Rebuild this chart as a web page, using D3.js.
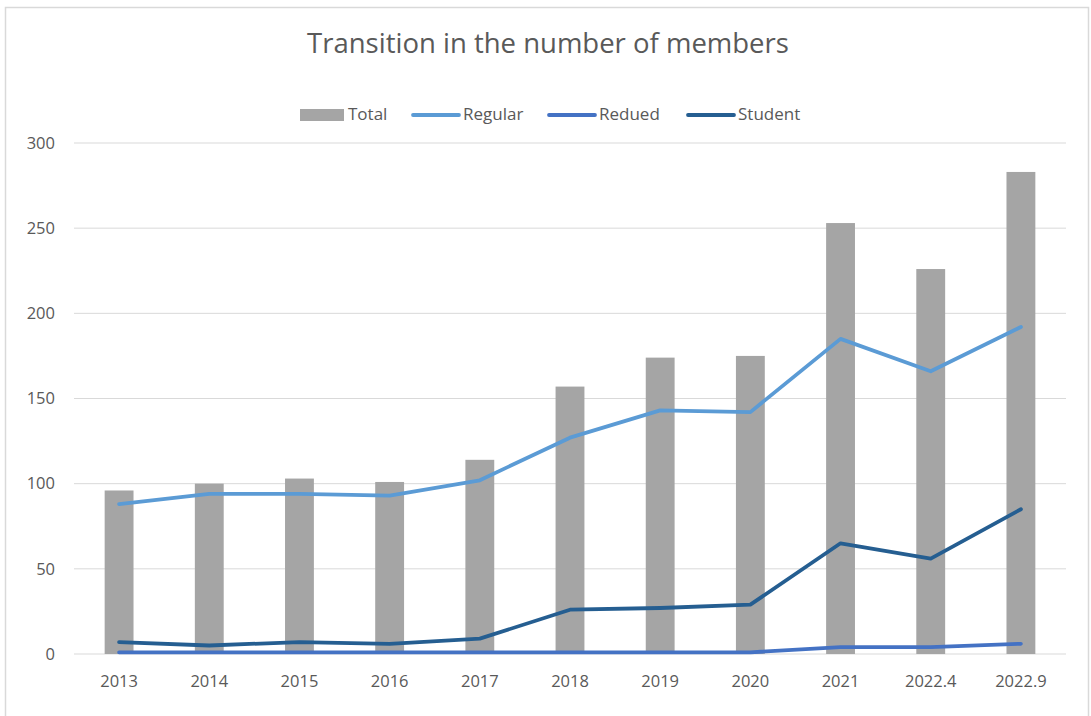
<!DOCTYPE html>
<html>
<head>
<meta charset="utf-8">
<script src="https://cdn.jsdelivr.net/npm/d3@7"></script>
<style>
  body { margin: 0; background: #fff; }
  text { font-family: "Open Sans", "Liberation Sans", sans-serif; fill: #595959; }
</style>
</head>
<body>
<script>
let categories = ["2013","2014","2015","2016","2017","2018","2019","2020","2021","2022.4","2022.9"];
let total   = [96,100,103,101,114,157,174,175,253,226,283];
let regular = [88,94,94,93,102,127,143,142,185,166,192];
let redued  = [1,1,1,1,1,1,1,1,4,4,6];
let student = [7,5,7,6,9,26,27,29,65,56,85];
let yTicks  = [0,50,100,150,200,250,300];

let W = 1091, H = 716;
let plotLeft = 74, plotRight = 1066, plotTop = 143, plotBottom = 654;

let svg = d3.select("body").append("svg").attr("width",W).attr("height",H);

// chart frame
svg.append("rect")
      .attr("x",5.5).attr("y",7.5)
      .attr("width",1083).attr("height",720)
      .attr("fill","none")
      .attr("stroke","#d9d9d9")
      .attr("stroke-width","1.5");

let x = d3.scaleBand()
              .domain(categories)
              .range([plotLeft,plotRight])
              .paddingInner(0.68)
              .paddingOuter(0.34);

let y = d3.scaleLinear().domain([0,300]).range([plotBottom,plotTop]);

// gridlines
svg.selectAll("line.grid")
      .data(yTicks)
      .enter().append("line")
                .attr("class","grid")
                .attr("x1",plotLeft).attr("x2",plotRight)
                .attr("y1",(d)=>y(d)).attr("y2",(d)=>y(d))
                .attr("stroke","#d9d9d9")
                .attr("stroke-width","1");

// y labels
let yAxis = d3.axisLeft(y).tickValues(yTicks).tickSize(0).tickPadding(0);
let gy = svg.append("g").attr("transform","translate(55,0)").call(yAxis);
gy.select(".domain").remove();
gy.selectAll("text").attr("font-size","16.5px").style("font-family","'Open Sans', sans-serif").attr("fill","#595959");

// x labels
let xAxis = d3.axisBottom(x).tickSize(0).tickPadding(0);
let gx = svg.append("g").attr("transform","translate(0,675)").call(xAxis);
gx.select(".domain").remove();
gx.selectAll("text").attr("font-size","16.5px").style("font-family","'Open Sans', sans-serif").attr("fill","#595959");

// bars
svg.selectAll("rect.bar")
      .data(total)
      .enter().append("rect")
                .attr("class","bar")
                .attr("x",(d,i)=>x(categories[i]))
                .attr("width",x.bandwidth())
                .attr("y",(d)=>y(d))
                .attr("height",(d)=>y(0)-y(d))
                .attr("fill","#a5a5a5");

let line = d3.line()
              .x((d,i)=>x(categories[i])+x.bandwidth()/2)
              .y((d)=>y(d));

let series = [
  {name:"Regular", values:regular, color:"#5b9bd5"},
  {name:"Redued", values:redued, color:"#4472c4"},
  {name:"Student", values:student, color:"#255e91"}
];

svg.selectAll("path.series")
      .data(series)
      .enter().append("path")
                .attr("class","series")
                .attr("d",(d)=>line(d.values))
                .attr("fill","none")
                .attr("stroke",(d)=>d.color)
                .attr("stroke-width","3.8")
                .attr("stroke-linejoin","round")
                .attr("stroke-linecap","round");

// title
svg.append("text")
      .attr("x",548)
      .attr("y",46)
      .attr("font-size","27.5px")
      .attr("text-anchor","middle")
      .attr("dominant-baseline","middle")
      .text("Transition in the number of members");

// legend
let lg = svg.append("g");
lg.append("rect").attr("x",300).attr("y",109).attr("width",44).attr("height",12).attr("fill","#a5a5a5");
lg.append("text").attr("x",348).attr("y",115).attr("font-size","17px").attr("dominant-baseline","middle").text("Total");

let legX = [413,549,688];
lg.selectAll("line.leg")
      .data(series)
      .enter().append("line")
                .attr("class","leg")
                .attr("x1",(d,i)=>legX[i])
                .attr("x2",(d,i)=>legX[i]+46)
                .attr("y1",115).attr("y2",115)
                .attr("stroke",(d)=>d.color)
                .attr("stroke-width","3.8")
                .attr("stroke-linecap","round");
lg.selectAll("text.leg")
      .data(series)
      .enter().append("text")
                .attr("class","leg")
                .attr("x",(d,i)=>legX[i]+50)
                .attr("y",115)
                .attr("font-size","17px")
                .attr("dominant-baseline","middle")
                .text((d)=>d.name);
</script>
</body>
</html>
